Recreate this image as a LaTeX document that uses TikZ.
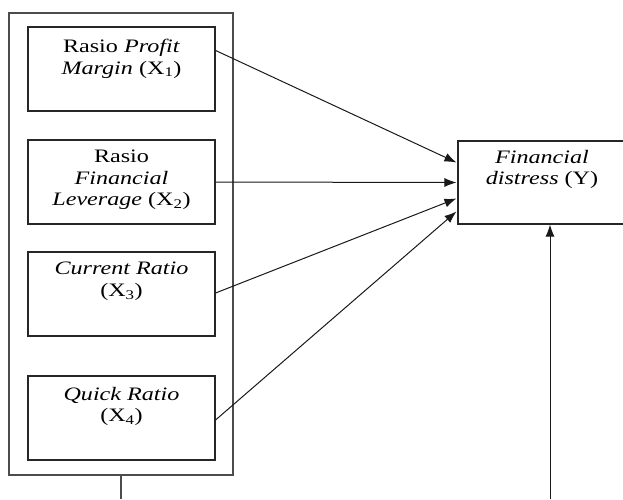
\documentclass[tikz,border=0pt]{standalone}
\usepackage{fontspec}
\setmainfont{Liberation Serif}[FakeStretch=1.27]
\usetikzlibrary{arrows.meta,calc}
\begin{document}
\begin{tikzpicture}[x=1pt,y=-1pt,
  box/.style={draw=black!85, line width=1.1pt, inner sep=0pt, minimum width=187pt, minimum height=84pt},
  outerbox/.style={draw=black!70, line width=1.1pt, inner sep=0pt, minimum width=224pt, minimum height=462pt},
  txt/.style={align=center, inner sep=0pt, anchor=north, font=\fontsize{19}{21.5}\selectfont},
  arr/.style={draw=black!90, line width=1pt, -{Latex[length=12pt,width=9pt]}},
  plain/.style={draw=black!70, line width=1.1pt}]
\useasboundingbox (0,0) rectangle (623,499);
\node[outerbox] (outer) at (121,244) {};
\node[box] (b1) at (121.5,69) {};
\node[box] (b2) at (121.5,182) {};
\node[box] (b3) at (121.5,294) {};
\node[box] (b4) at (121.5,418) {};
\node[draw=black!85, line width=1.1pt, inner sep=0pt, minimum width=168pt, minimum height=83pt] (y) at (542,182.5) {};
\node[txt] (t1) at (121.5,39) {Rasio \textit{Profit}\\\textit{Margin} (X\textsubscript{1})};
\node[txt] (t2) at (121.5,150) {Rasio\\\textit{Financial}\\\textit{Leverage} (X\textsubscript{2})};
\node[txt] (t3) at (121.5,262) {\textit{Current Ratio}\\(X\textsubscript{3})};
\node[txt] (t4) at (121.5,387) {\textit{Quick Ratio}\\(X\textsubscript{4})};
\node[txt] (ty) at (542,150) {\textit{Financial}\\\textit{distress} (Y)};
\coordinate (bl) at (121,499);
\coordinate (br) at (550,499);
\draw[arr] ($(b1.north east)+(0,24)$) -- ($(y.west)+(-1,-20)$);
\draw[arr] (b2.east) -- ($(y.west)+(-1,0)$);
\draw[arr] ($(b3.east)+(0,-1)$) -- ($(y.west)+(-1,16)$);
\draw[arr] ($(b4.east)+(0,2)$) -- ($(y.west)+(-1,29)$);
\draw[plain] (outer.south) -- (bl);
\draw[arr] (br) -- (br |- y.south);
\end{tikzpicture}
\end{document}
